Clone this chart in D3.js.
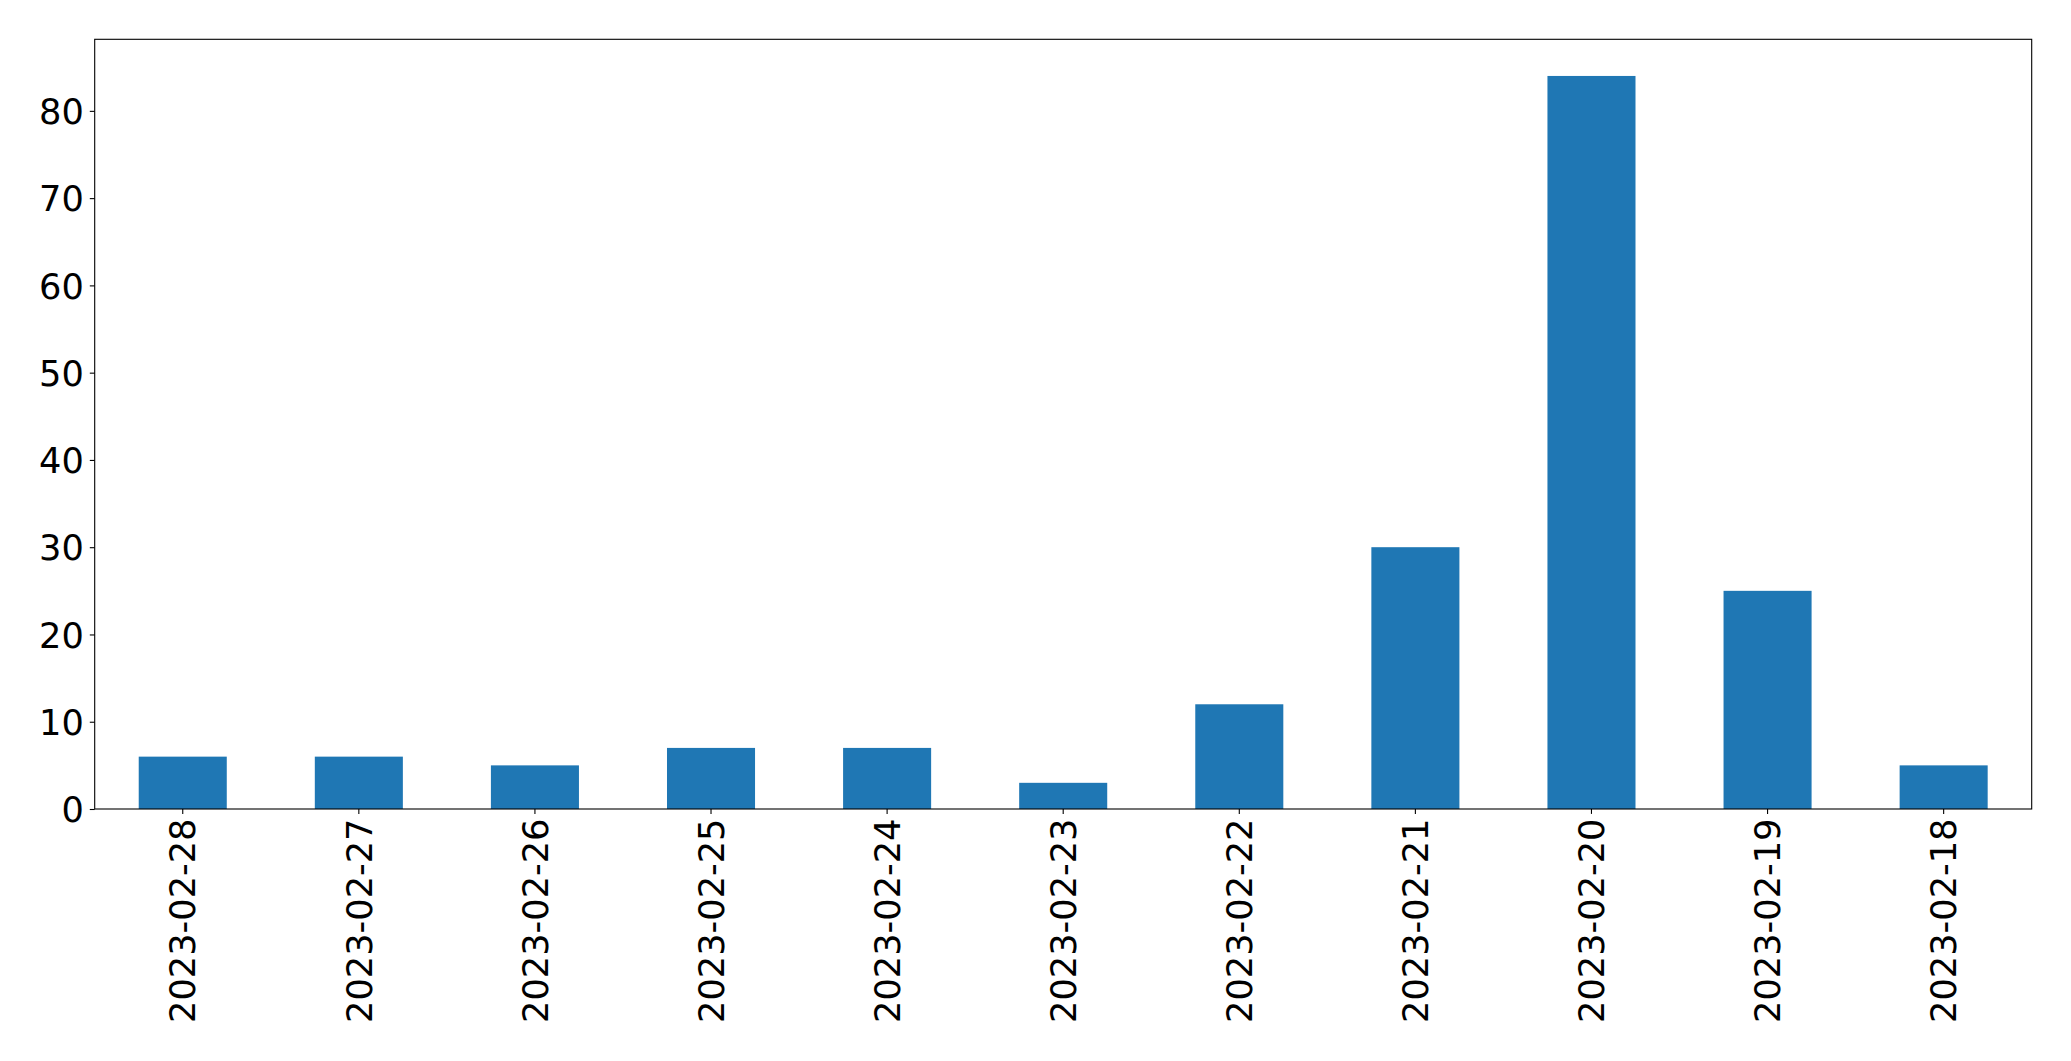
<!DOCTYPE html>
<html>
<head>
<meta charset="utf-8">
<script src="https://cdn.jsdelivr.net/npm/d3@7"></script>
<style>
html, body { margin: 0; padding: 0; background: #fff; }
svg { display: block; }
</style>
</head>
<body>
<svg id="chart" width="2071" height="1061"></svg>
<script>
const categories = ["2023-02-28","2023-02-27","2023-02-26","2023-02-25","2023-02-24","2023-02-23","2023-02-22","2023-02-21","2023-02-20","2023-02-19","2023-02-18"];
const values = [6, 6, 5, 7, 7, 3, 12, 30, 84, 25, 5];
const yTicks = [0, 10, 20, 30, 40, 50, 60, 70, 80];

const W = 2071, H = 1061;
const margin = {left: 94.7, right: W - 2031.7, top: 39.3, bottom: H - 809};
const svg = d3.select("#chart");
const fontFamily = "'DejaVu Sans', sans-serif";
const fontSize = 35.2;

const x = d3.scaleBand().domain(categories).range([margin.left, W - margin.right]).paddingInner(0.5).paddingOuter(0.25);
const y = d3.scaleLinear().domain([0, d3.max(values) * 1.05]).range([H - margin.bottom, margin.top]);

svg.append("g").selectAll("rect").data(values).join("rect")
  .attr("x", (d, i) => x(categories[i]))
  .attr("width", x.bandwidth())
  .attr("y", d => y(d))
  .attr("height", d => y(0) - y(d))
  .attr("fill", "#1f77b4");

const yAxis = svg.append("g").attr("transform", `translate(${margin.left},0)`)
  .call(d3.axisLeft(y).tickValues(yTicks).tickFormat(d3.format("d")).tickSizeOuter(0).tickSizeInner(4.9).tickPadding(6));
yAxis.select(".domain").remove();
yAxis.selectAll(".tick line").attr("stroke", "#000").attr("stroke-width", 1.1);
yAxis.selectAll("text").attr("font-family", fontFamily).attr("font-size", fontSize).attr("fill", "#000").attr("dy", "0.36em");

const xAxis = svg.append("g").attr("transform", `translate(0,${H - margin.bottom})`)
  .call(d3.axisBottom(x).tickSizeOuter(0).tickSizeInner(4.9).tickPadding(6));
xAxis.select(".domain").remove();
xAxis.selectAll(".tick line").attr("stroke", "#000").attr("stroke-width", 1.1);
xAxis.selectAll("text")
  .attr("font-family", fontFamily).attr("font-size", fontSize).attr("fill", "#000")
  .attr("text-anchor", "end")
  .attr("transform", "rotate(-90)")
  .attr("x", -9.5).attr("y", 0).attr("dy", "0.36em");

svg.append("rect")
  .attr("x", margin.left).attr("y", margin.top)
  .attr("width", W - margin.left - margin.right)
  .attr("height", H - margin.top - margin.bottom)
  .attr("fill", "none").attr("stroke", "#000").attr("stroke-width", 1.1);
</script>
</body>
</html>
